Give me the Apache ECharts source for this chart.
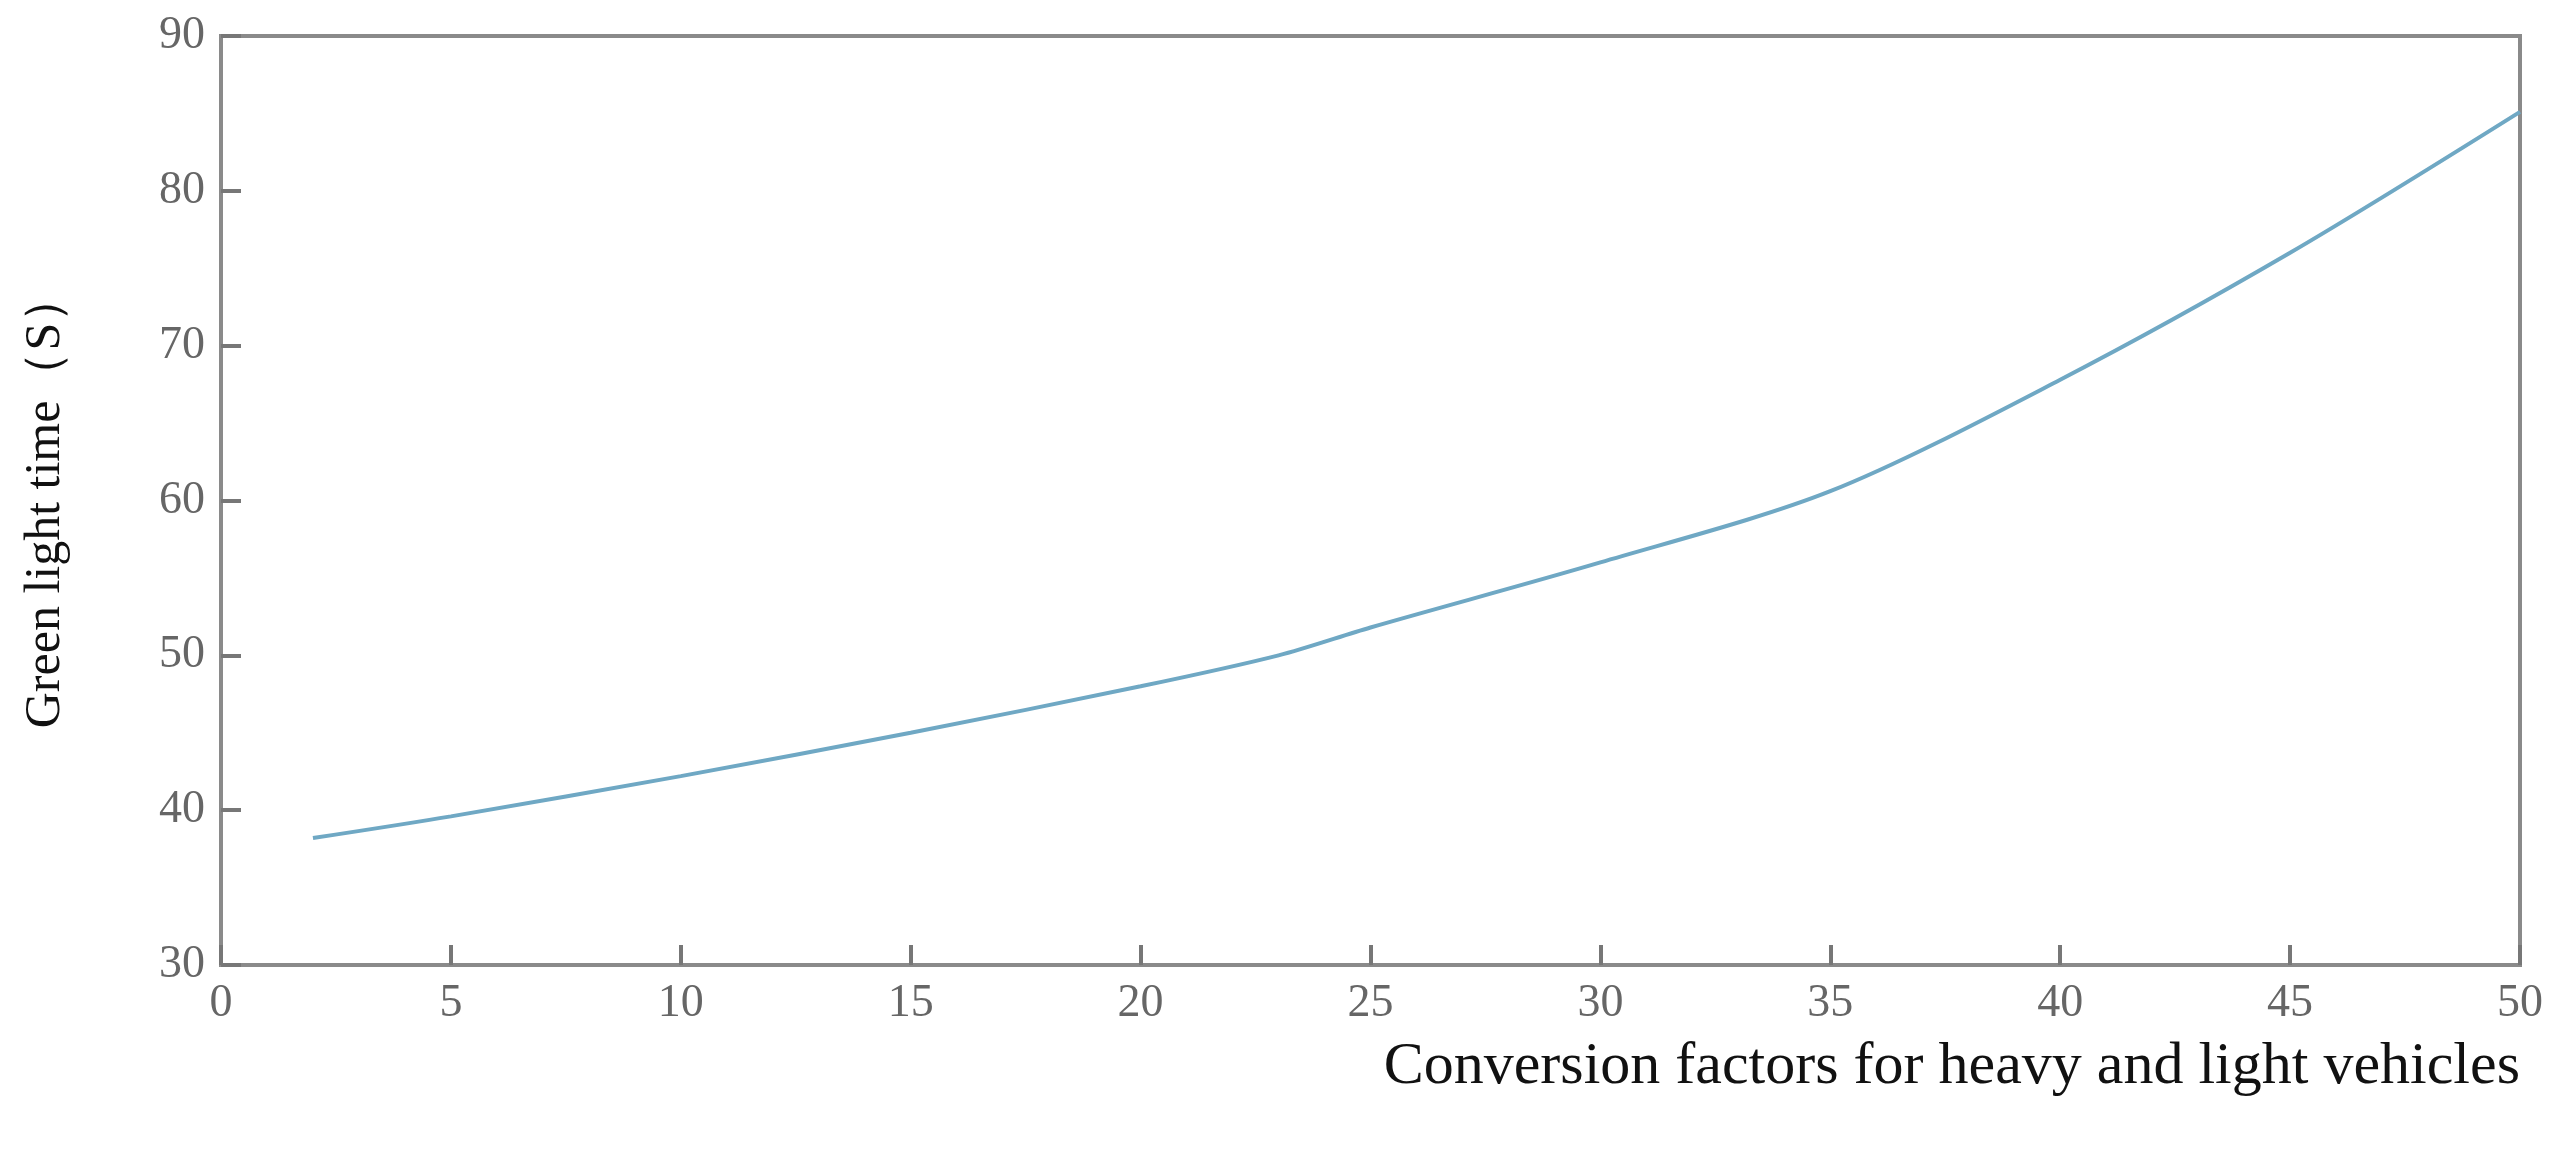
<!DOCTYPE html>
<html><head><meta charset="utf-8">
<script src="https://cdn.jsdelivr.net/npm/echarts@6/dist/echarts.min.js"></script>
<style>html,body{margin:0;padding:0;background:#fff}#c{width:2564px;height:1162px}</style>
</head><body><div id="c"></div>
<script>
const xValues = [2, 5, 10, 15, 20, 23, 25, 30, 35, 40, 45, 50];
const yValues = [38.2, 39.6, 42.2, 45.0, 48.0, 50.0, 51.8, 56.0, 60.6, 67.8, 76.0, 85.1];
const xName = 'Conversion factors for heavy and light vehicles';
const yName = 'Green light time（S）';
const chart = echarts.init(document.getElementById('c'));
const font = '"Liberation Serif", "Times New Roman", serif';
const axisCommon = {
  axisLine: {show: true, lineStyle: {color: '#8a8a8a', width: 4}},
  axisTick: {show: true, inside: true, length: 20, lineStyle: {color: '#777', width: 4}},
  splitLine: {show: false},
  axisLabel: {color: '#666', fontSize: 46, fontFamily: font, margin: 16}
};
chart.setOption({
  animation: false,
  grid: {left: 221, right: 44, top: 36, bottom: 197, show: true, borderColor: '#8a8a8a', borderWidth: 4},
  xAxis: Object.assign({}, axisCommon, {
    type: 'value', min: 0, max: 50, interval: 5,
    name: xName, nameLocation: 'end', nameGap: 0,
    nameTextStyle: {fontSize: 60, fontFamily: font, color: '#111', align: 'right', verticalAlign: 'top', padding: [72, 0, 0, 0]}
  }),
  yAxis: Object.assign({}, axisCommon, {
    type: 'value', min: 30, max: 90, interval: 10,
    name: yName, nameLocation: 'middle', nameGap: 150, nameRotate: 90,
    nameTextStyle: {fontSize: 50, fontFamily: font, color: '#111'}
  }),
  series: [{
    type: 'line', smooth: 0.3, showSymbol: false,
    data: xValues.map((x, i) => [x, yValues[i]]),
    lineStyle: {color: '#6fa8c4', width: 4}
  }]
});
</script></body></html>
